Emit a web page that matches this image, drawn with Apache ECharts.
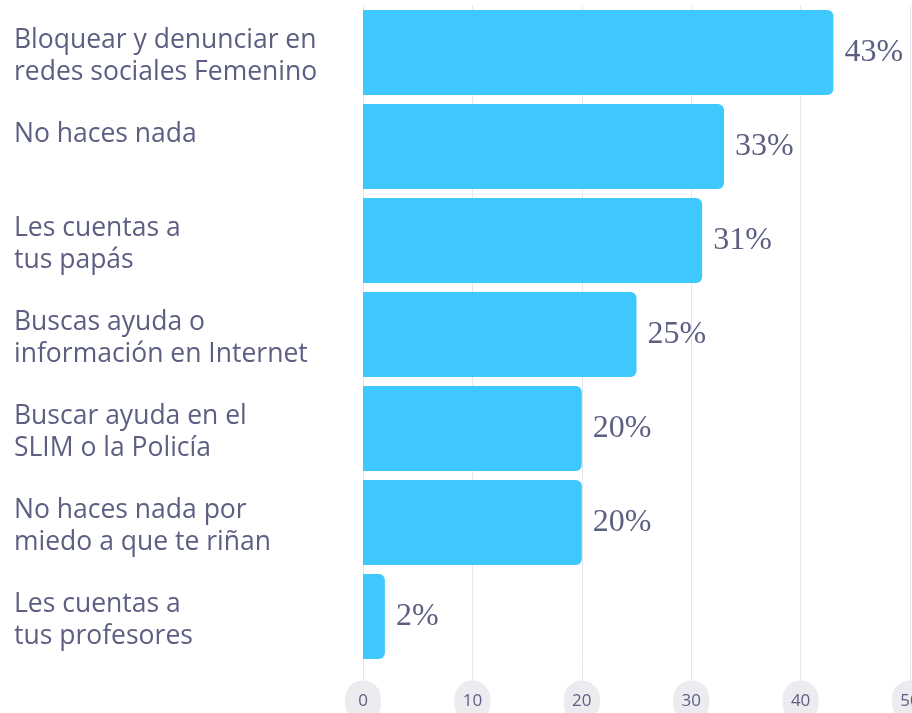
<!DOCTYPE html>
<html><head><meta charset="utf-8">
<script src="https://cdn.jsdelivr.net/npm/echarts@6/dist/echarts.min.js"></script>
<style>html,body{margin:0;padding:0;background:#fff}#c{width:912px;height:713px}</style>
</head><body><div id="c"></div>
<script>
const categories = [
  "Bloquear y denunciar en\nredes sociales Femenino",
  "No haces nada",
  "Les cuentas a\ntus papás",
  "Buscas ayuda o\ninformación en Internet",
  "Buscar ayuda en el\nSLIM o la Policía",
  "No haces nada por\nmiedo a que te riñan",
  "Les cuentas a\ntus profesores"
];
const values = [43, 33, 31, 25, 20, 20, 2];
const xTicks = [0, 10, 20, 30, 40, 50];

const chart = echarts.init(document.getElementById('c'), null, {renderer: 'canvas'});
chart.setOption({
  animation: false,
  grid: {left: 363, right: 2, top: 5.5, bottom: 49.5, containLabel: false, outerBoundsMode: 'none'},
  xAxis: {
    type: 'value', min: xTicks[0], max: xTicks[xTicks.length - 1], interval: 10,
    axisLine: {show: false},
    axisTick: {show: true, length: 17, lineStyle: {color: '#e6e6ee', width: 1}},
    splitLine: {show: true, lineStyle: {color: '#e6e6ee', width: 1}},
    axisLabel: {
      show: true, margin: 17, color: '#5c5f82', fontFamily: 'Open Sans', fontSize: 17,
      backgroundColor: '#ebebf0', borderRadius: 18, padding: [12, 8, 12, 8],
      width: 20, align: 'center', overflow: 'none', verticalAlign: 'top'
    }
  },
  yAxis: {
    type: 'category', data: categories, inverse: true,
    axisLine: {show: false}, axisTick: {show: false}, splitLine: {show: false},
    axisLabel: {
      margin: 349, align: 'left', color: '#5c5f82', fontFamily: 'Open Sans', fontSize: 26.5, lineHeight: 32,
      formatter: function (v) { return v.indexOf('\n') < 0 ? '{s|' + v + '}' : '{d|' + v + '}'; },
      rich: {
        s: {color: '#5c5f82', fontFamily: 'Open Sans', fontSize: 26.5, lineHeight: 32, padding: [8, 0, 32, 0]},
        d: {color: '#5c5f82', fontFamily: 'Open Sans', fontSize: 26.5, lineHeight: 32, padding: [8, 0, 0, 0]}
      }
    }
  },
  series: [{
    type: 'bar', data: values, barCategoryGap: '9.6%',
    itemStyle: {color: '#3ec8fd', borderRadius: [0, 6, 6, 0]},
    label: {
      show: true, position: 'right', distance: 11, formatter: '{c}%',
      color: '#5c5f82', fontFamily: 'Liberation Serif', fontSize: 32, padding: [4, 0, 0, 0]
    }
  }]
});
</script></body></html>
